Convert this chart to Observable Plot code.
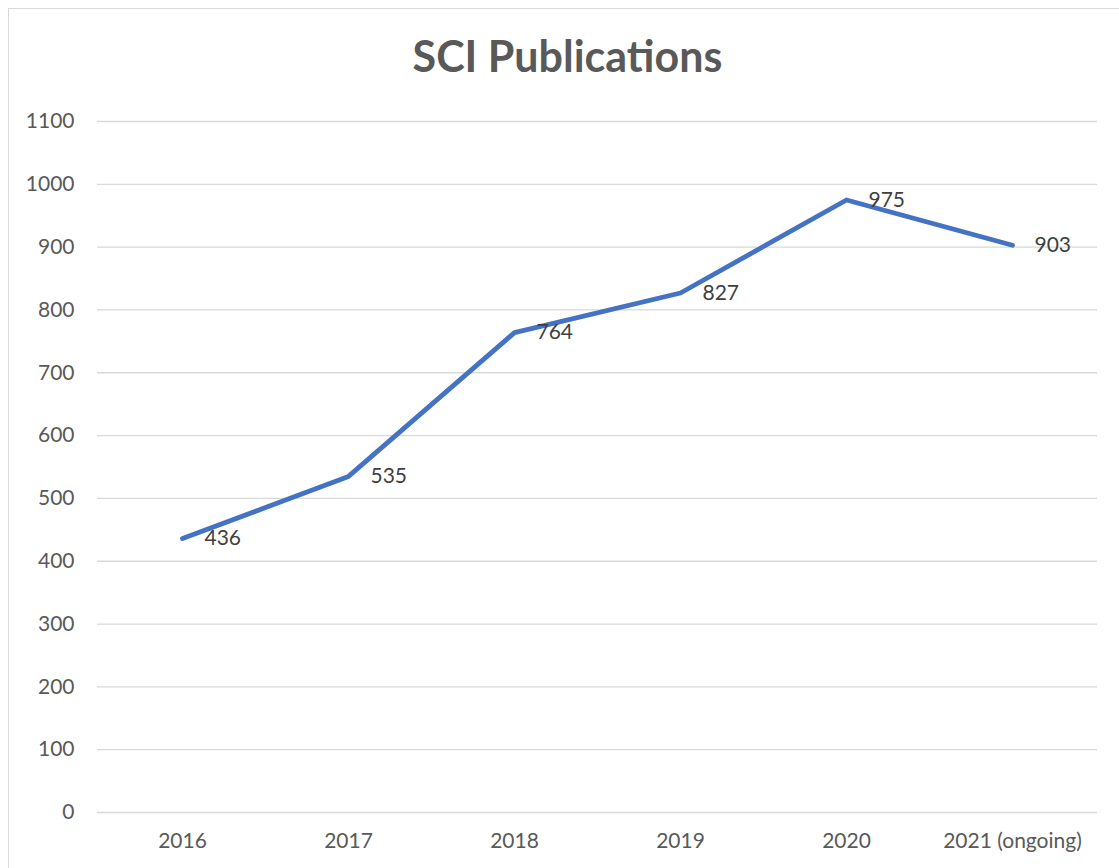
<!DOCTYPE html>
<html>
<head>
<meta charset="utf-8">
<script src="https://cdn.jsdelivr.net/npm/d3@7"></script>
<script src="https://cdn.jsdelivr.net/npm/@observablehq/plot@0.6"></script>
<style>
  html, body { margin: 0; padding: 0; background: #fff; }
  #wrap { position: relative; width: 1119px; height: 868px; overflow: hidden; font-family: Lato, "Open Sans", sans-serif; }
  #frame { position: absolute; left: 8px; top: 8px; width: 1200px; height: 1000px; border-left: 1.5px solid #d9d9d9; border-top: 1.5px solid #d9d9d9; box-sizing: border-box; }
  #title { position: relative; height: 100px; box-sizing: border-box; padding-top: 31px; padding-left: 16px; text-align: center; font-weight: 700; font-size: 43px; line-height: 50px; color: #595959; }
  #chart { position: relative; }
  #chart svg { display: block; }
</style>
</head>
<body>
<div id="wrap">
  <div id="frame"></div>
  <div id="title">SCI Publications</div>
  <div id="chart"></div>
</div>
<script>
const years = ["2016", "2017", "2018", "2019", "2020", "2021 (ongoing)"];
const publications = [436, 535, 764, 827, 975, 903];
const yTicks = [0, 100, 200, 300, 400, 500, 600, 700, 800, 900, 1000, 1100];

const data = years.map((year, i) => ({year, value: publications[i]}));

const chart = Plot.plot({
  width: 1119,
  height: 768,
  marginTop: 21,
  marginBottom: 56,
  marginLeft: 97,
  marginRight: 22,
  style: {fontFamily: "Lato, 'Open Sans', sans-serif", fontSize: "21px", background: "transparent", overflow: "visible"},
  x: {type: "point", domain: years, padding: 0.5, label: null},
  y: {domain: [0, 1100], label: null},
  marks: [
    Plot.gridY(yTicks, {stroke: "#d9d9d9", strokeOpacity: 1, strokeWidth: 1.3}),
    Plot.axisY(yTicks, {tickSize: 0, tickPadding: 23, fontSize: 21, fill: "#595959", tickFormat: d => String(d)}),
    Plot.axisX({tickSize: 0, tickPadding: 21, fontSize: 21, fill: "#595959"}),
    Plot.line(data, {x: "year", y: "value", stroke: "#4472C4", strokeWidth: 4.8, strokeLinecap: "round", strokeLinejoin: "round"}),
    Plot.text(data, {x: "year", y: "value", text: d => String(d.value), dx: 22, textAnchor: "start", lineAnchor: "middle", fontSize: 21, fill: "#404040"})
  ]
});
document.getElementById("chart").appendChild(chart);
</script>
</body>
</html>
